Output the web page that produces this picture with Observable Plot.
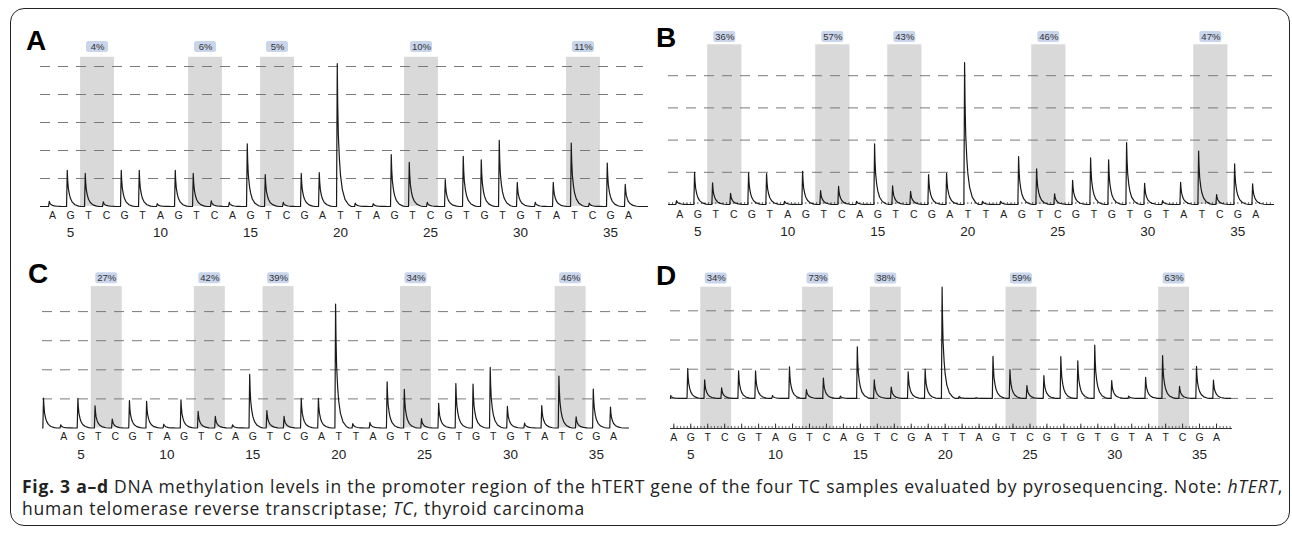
<!DOCTYPE html>
<html><head><meta charset="utf-8">
<script src="https://cdn.jsdelivr.net/npm/d3@7"></script>
<script src="https://cdn.jsdelivr.net/npm/@observablehq/plot@0.6"></script>
<style>
body{margin:0;background:#fff;}
#wrap{position:relative;width:1292px;height:534px;overflow:hidden;font-family:"Liberation Sans",Arial,sans-serif;}
#frame{position:absolute;left:10px;top:8px;width:1280px;height:518px;border:1.5px solid #222;border-radius:14px;box-sizing:border-box;}
.panel{position:absolute;}
#letters{position:absolute;left:0;top:0;}
#caption{position:absolute;left:22px;top:475px;font-family:"Open Sans",sans-serif;font-size:17.5px;letter-spacing:0.75px;line-height:22px;color:#222;white-space:nowrap;}
#caption b{font-weight:700;}
</style>
</head><body>
<div id="wrap">
  <div id="frame"></div>
  <div id="pA" class="panel"></div>
  <div id="pB" class="panel"></div>
  <div id="pC" class="panel"></div>
  <div id="pD" class="panel"></div>
  <svg id="letters" width="1292" height="534" font-family="Liberation Sans, Arial, sans-serif" font-weight="bold" font-size="28" fill="#000">
    <text x="26" y="50">A</text>
    <text x="656" y="47">B</text>
    <text x="28" y="283">C</text>
    <text x="656" y="285">D</text>
  </svg>
  <div id="caption"><b>Fig. 3 a–d</b> DNA methylation levels in the promoter region of the hTERT gene of the four TC samples evaluated by pyrosequencing. Note: <i>hTERT</i>,<br>human telomerase reverse transcriptase; <i>TC</i>, thyroid carcinoma</div>
</div>
<script>
// ---- data ----
const dispensation = ["A","G","T","C","G","T","A","G","T","C","A","G","T","C","G","A","T","T","A","G","T","C","G","T","G","T","G","T","A","T","C","G","A"]; // positions 4..36
const positions = d3.range(4, 37);
const positionsC = d3.range(3, 37);
const positionTicks = [5, 10, 15, 20, 25, 30, 35];
const cpgCenters = [6.5, 12.5, 16.5, 24.5, 33.5];

const heightsA = [0.18,1.29,1.18,0.17,1.29,1.29,0.10,1.29,1.18,0.20,0.15,2.24,1.14,0.15,1.18,1.21,5.10,0.12,0.10,1.85,1.58,0.15,0.96,1.79,1.67,2.36,0.86,0.15,0.86,2.26,0.12,1.55,0.79];
const heightsB = [0.12,1.00,0.67,0.35,0.98,0.96,0.10,1.03,0.43,0.56,0.10,1.88,0.58,0.41,0.93,0.97,4.41,0.10,0.10,1.49,1.11,0.33,0.75,1.45,1.39,1.92,0.66,0.12,0.69,1.66,0.31,1.26,0.64];
const heightsC = [1.03,0.11,1.02,0.76,0.31,0.94,0.92,0.13,0.97,0.57,0.40,0.11,1.84,0.60,0.40,1.02,1.02,4.26,0.15,0.19,1.59,1.33,0.32,0.85,1.53,1.51,2.08,0.74,0.17,0.77,1.78,0.38,1.34,0.72];
const heightsD = [0.10,1.02,0.64,0.36,0.94,0.94,0.10,1.08,0.30,0.70,0.08,1.77,0.64,0.39,0.91,1.00,3.81,0.07,0.03,1.44,0.99,0.44,0.78,1.43,1.29,1.83,0.61,0.08,0.72,1.47,0.41,1.10,0.63];

const methylA = [4, 6, 5, 10, 11];
const methylB = [36, 57, 43, 46, 47];
const methylC = [27, 42, 39, 34, 46];
const methylD = [34, 73, 38, 59, 63];

// peak profile (offset from dispensation position, fraction of peak height)
const peakShape = [[-0.22,0],[-0.18,1],[-0.155,0.72],[-0.12,0.5],[-0.06,0.33],[0,0.22],[0.1,0.12],[0.25,0.05],[0.45,0.012],[0.6,0]];

function buildTrace(pos, h, x0, x1) {
  const pts = [{x: x0, y: 0}];
  pos.forEach((p, i) => {
    for (const [dx, f] of peakShape) {
      const x = p + dx;
      if (x >= x0 && x <= x1) pts.push({x, y: h[i] * f});
    }
  });
  pts.push({x: x1, y: 0});
  return pts;
}

function panel(cfg) {
  const trace = buildTrace(cfg.pos, cfg.heights, cfg.traceX[0], cfg.traceX[1]);
  const yb = cfg.yDomain[0];
  const marks = [
    Plot.rect(cpgCenters, {x1: c => c - cfg.shadeHalf, x2: c => c + cfg.shadeHalf, y1: () => yb, y2: () => cfg.shadeTop, fill: "#d9d9d9"}),
    Plot.ruleY(cfg.grid, {x1: () => cfg.gridX[0], x2: () => cfg.gridX[1], stroke: "#7a7a7a", strokeWidth: 1, strokeDasharray: "10,8"})
  ];
  if (cfg.ruler) {
    const r = cfg.ruler;
    const minor = d3.range(Math.ceil(r.x0 * 5) / 5, r.x1, 0.2);
    marks.push(Plot.ruleX(minor, {x: d => d, y1: () => r.y, y2: () => r.y + r.minor, stroke: "#444", strokeWidth: 0.8}));
    if (r.major) marks.push(Plot.ruleX(positions, {x: d => d, y1: () => r.y, y2: () => r.y + r.major, stroke: "#333", strokeWidth: 1}));
    if (r.line) marks.push(Plot.ruleY([r.y], {x1: () => r.x0, x2: () => r.x1, stroke: "#333", strokeWidth: 1.2}));
  }
  marks.push(Plot.line(trace, {x: "x", y: "y", stroke: "#1a1a1a", strokeWidth: 1.2}));
  marks.push(Plot.rect(cpgCenters, {x1: c => c, x2: c => c, y1: () => cfg.labelY, y2: () => cfg.labelY,
    insetLeft: -11, insetRight: -11, insetTop: -5.5, insetBottom: -5.5, rx: 2.5, fill: "#c9d5eb"}));
  marks.push(Plot.text(cpgCenters, {x: c => c, y: () => cfg.labelY, text: (c, i) => cfg.methyl[i] + "%", fontSize: 9.5, fill: "#333"}));
  marks.push(Plot.axisX(positions, {tickFormat: d => dispensation[d - 4], tickSize: 0, tickPadding: cfg.letterPad, fontSize: 10.5, fill: "#222"}));
  marks.push(Plot.axisX(positionTicks, {tickFormat: d => String(d), tickSize: 0, tickPadding: cfg.numPad, fontSize: 13.5, fill: "#222"}));
  const el = Plot.plot({
    width: cfg.width, height: cfg.height,
    marginLeft: cfg.m[0], marginRight: cfg.m[1], marginTop: cfg.m[2], marginBottom: cfg.m[3],
    x: {domain: cfg.xDomain, label: null},
    y: {domain: cfg.yDomain, axis: null, label: null},
    style: {fontFamily: "Liberation Sans, Arial, sans-serif", color: "#222", background: "transparent", overflow: "visible"},
    marks
  });
  const host = document.getElementById(cfg.id);
  host.style.left = cfg.left + "px";
  host.style.top = cfg.top + "px";
  host.appendChild(el);
}

panel({id: "pA", left: 0, top: 0, width: 660, height: 240, m: [40, 13, 20, 34],
  xDomain: [3.333, 37.056], yDomain: [0, 6.643], grid: [1, 2, 3, 4, 5], gridX: [3.333, 36.83],
  traceX: [3.333, 37.056], pos: positions, heights: heightsA, methyl: methylA,
  shadeTop: 5.33, labelY: 5.7, shadeHalf: 0.94, letterPad: 5, numPad: 20.5});

panel({id: "pB", left: 650, top: 0, width: 642, height: 240, m: [18, 19, 20, 36],
  xDomain: [3.372, 36.98], yDomain: [0, 5.714], grid: [1, 2, 3, 4], gridX: [3.372, 36.98],
  traceX: [3.372, 36.98], pos: positions, heights: heightsB, methyl: methylB,
  shadeTop: 4.96, labelY: 5.2, shadeHalf: 0.95, letterPad: 6, numPad: 22,
  ruler: {x0: 3.372, x1: 36.98, y: 0, minor: 0.06}});

panel({id: "pC", left: 0, top: 240, width: 660, height: 230, m: [42, 10, 20, 42.5],
  xDomain: [2.76, 38.15], yDomain: [0, 5.756], grid: [1, 2, 3, 4], gridX: [2.76, 37.92],
  traceX: [2.76, 36.87], pos: positionsC, heights: heightsC, methyl: methylC,
  shadeTop: 4.86, labelY: 5.15, shadeHalf: 0.9, letterPad: 5, numPad: 21.5});

panel({id: "pD", left: 650, top: 240, width: 642, height: 230, m: [20, 19, 20, 42],
  xDomain: [3.805, 39.36], yDomain: [-1.03, 4.723], grid: [0, 1, 2, 3], gridX: [3.805, 39.36],
  traceX: [3.805, 36.83], pos: positions, heights: heightsD, methyl: methylD,
  shadeTop: 3.81, labelY: 4.11, shadeHalf: 0.91, letterPad: 5.3, numPad: 21,
  ruler: {x0: 3.805, x1: 36.94, y: -1.03, minor: 0.07, major: 0.15, line: true}});
</script>
</body></html>
